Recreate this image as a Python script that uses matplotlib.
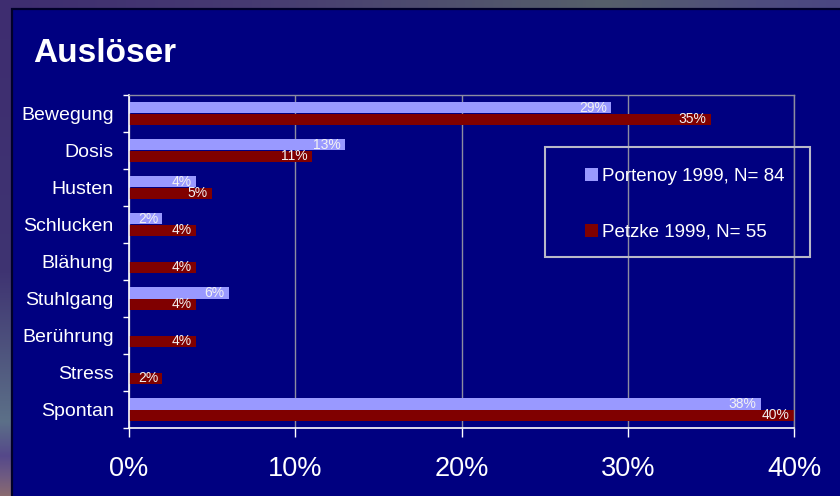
import numpy as np
import matplotlib
matplotlib.use("Agg")
import matplotlib.pyplot as plt
from matplotlib.patches import Rectangle, Patch
from matplotlib.colors import to_rgb

# ---- data -------------------------------------------------------------
categories = ["Bewegung", "Dosis", "Husten", "Schlucken", "Blähung",
              "Stuhlgang", "Berührung", "Stress", "Spontan"]
portenoy = [29, 13, 4, 2, 0, 6, 0, 0, 38]
petzke = [35, 11, 5, 4, 4, 4, 4, 2, 40]
series_labels = ["Portenoy 1999, N= 84", "Petzke 1999, N= 55"]
x_ticks = [0, 10, 20, 30, 40]
x_ticklabels = ["0%", "10%", "20%", "30%", "40%"]
title = "Auslöser"

plt.rcParams["font.family"] = ["Liberation Sans", "DejaVu Sans"]

W, H = 840, 496
NAVY = "#000080"
LIGHT = "#9999FF"
DARK_RED = "#800000"

fig = plt.figure(figsize=(W / 100, H / 100), dpi=100)
fig.patch.set_facecolor(NAVY)

# ---- slide frame: textured gradient strip with a navy panel on top ----
bg = fig.add_axes([0, 0, 1, 1], zorder=0)
bg.set_axis_off()


def gradient(stops, colors, n):
    t = np.linspace(0, 1, n)
    rgb = np.array([to_rgb(c) for c in colors])
    return np.stack([np.interp(t, stops, rgb[:, k]) for k in range(3)], axis=-1)


img = np.repeat(
    gradient([0, 0.55, 0.85, 0.92, 0.96, 1.0],
             ["#3E2D70", "#3F3472", "#5C7088", "#55488A", "#6E5A82", "#8A6A70"], H)[:, None, :],
    W, axis=1)
img[:12] = gradient([0, 0.3, 0.72, 0.9, 1.0],
                    ["#3E2D70", "#463A72", "#56606A", "#4E4C7E", "#4A4682"], W)[None, :, :]
bg.imshow(img, extent=[0, W, H, 0], aspect="auto", interpolation="bilinear")
bg.set_xlim(0, W)
bg.set_ylim(H, 0)
bg.add_patch(Rectangle((11.5, 8.8), W, H, facecolor=NAVY,
                       edgecolor="#000028", linewidth=1.6))

fig.text(33 / W, 1 - 62 / H, title, fontsize=24, fontweight="bold",
         color="white", ha="left", va="baseline")

# ---- bar chart ---------------------------------------------------------
ax = fig.add_axes([129 / W, 1 - 428 / H, (794 - 129) / W, (428 - 95) / H], zorder=1)
ax.set_facecolor("none")

y = np.arange(len(categories))
h = 0.3
ax.barh(y - h / 2, portenoy, height=h, color=LIGHT, linewidth=0, zorder=2)
ax.barh(y + h / 2, petzke, height=h, color=DARK_RED, linewidth=0, zorder=2)

for pos, vals in ((y - h / 2, portenoy), (y + h / 2, petzke)):
    for yi, v in zip(pos, vals):
        if v:
            ax.annotate(f"{v}%", (v, yi), xytext=(-3, 0), textcoords="offset points",
                        ha="right", va="center", color="#F2F2F2", fontsize=10, zorder=3)

ax.set_xlim(0, 40)
ax.set_ylim(len(categories) - 0.5, -0.5)

ax.set_axisbelow(True)
ax.xaxis.grid(True, color="#8C8CA0", linewidth=1)

ax.set_xticks(x_ticks, labels=x_ticklabels)
ax.tick_params(axis="x", length=6.5, width=1, color="white", labelsize=19.5,
               labelcolor="white", pad=14)

ax.set_yticks(np.arange(-0.5, len(categories)), labels=[])
ax.set_yticks(y, labels=categories, minor=True)
ax.tick_params(axis="y", which="major", length=4.3, width=1, color="white")
ax.tick_params(axis="y", which="minor", length=0, pad=11, labelsize=14,
               labelcolor="white")

for side in ("top", "right"):
    ax.spines[side].set_color("#8C8CA0")
    ax.spines[side].set_linewidth(1)
for side in ("left", "bottom"):
    ax.spines[side].set_color("white")
    ax.spines[side].set_linewidth(1.2)

# ---- legend ------------------------------------------------------------
fig.patches.append(Rectangle((545 / W, 1 - 257 / H), 265 / W, 110 / H,
                             transform=fig.transFigure, facecolor="none",
                             edgecolor="#B8B8C8", linewidth=1.5, zorder=3))
handles = [Patch(facecolor=LIGHT, linewidth=0), Patch(facecolor=DARK_RED, linewidth=0)]
fig.legend(handles, series_labels, loc="center left",
           bbox_to_anchor=(585 / W, 1 - 204.5 / H), frameon=False,
           fontsize=13.5, labelcolor="white", handlelength=0.7, handleheight=0.7,
           handletextpad=0.2, labelspacing=2.05, borderpad=0, borderaxespad=0)

fig.savefig("out.png", dpi=100, facecolor=fig.get_facecolor())
